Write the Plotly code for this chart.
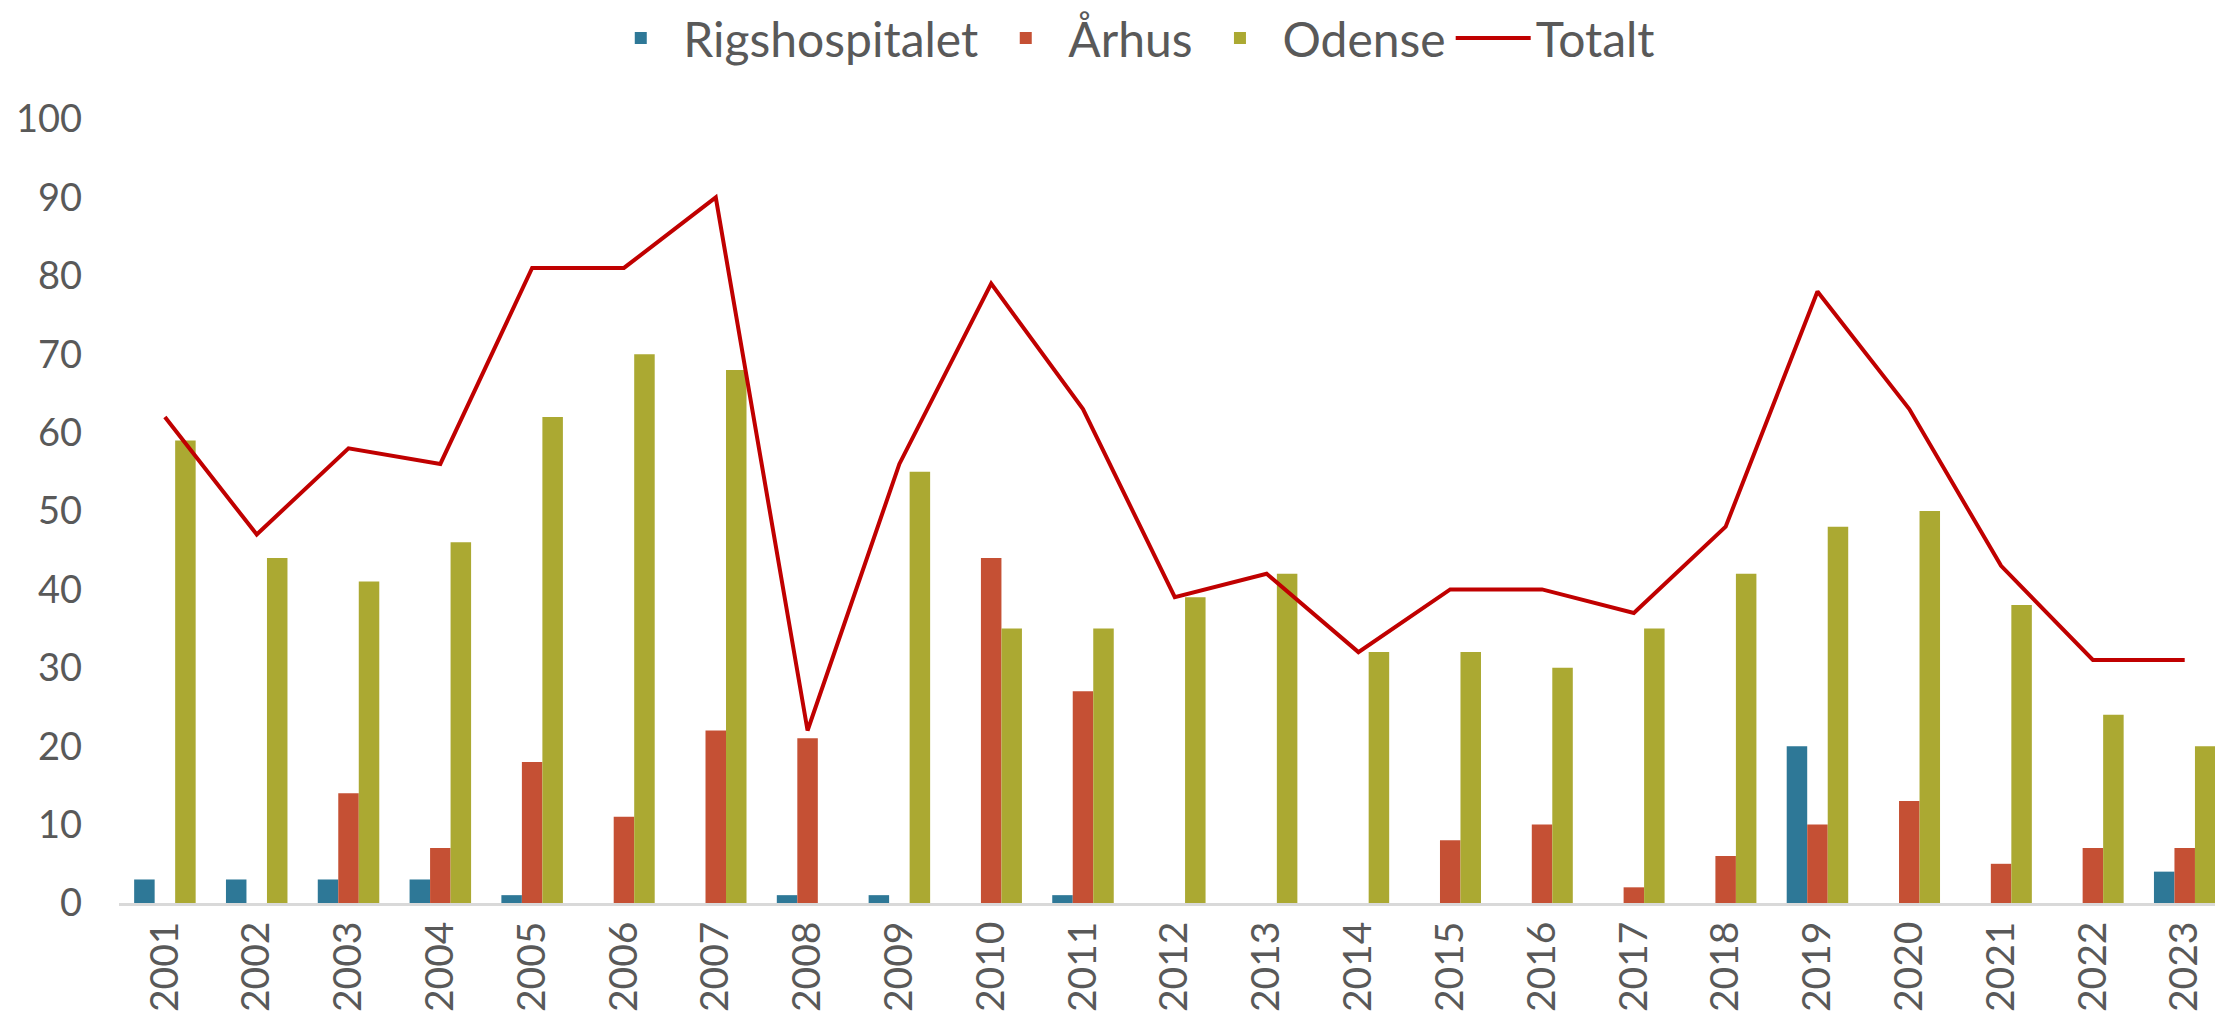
import plotly.graph_objects as go

years = [str(y) for y in range(2001, 2024)]
rigshospitalet = [3, 3, 3, 3, 1, 0, 0, 1, 1, 0, 1, 0, 0, 0, 0, 0, 0, 0, 20, 0, 0, 0, 4]
aarhus = [0, 0, 14, 7, 18, 11, 22, 21, 0, 44, 27, 0, 0, 0, 8, 10, 2, 6, 10, 13, 5, 7, 7]
odense = [59, 44, 41, 46, 62, 70, 68, 0, 55, 35, 35, 39, 42, 32, 32, 30, 35, 42, 48, 50, 38, 24, 20]
totalt = [62, 47, 58, 56, 81, 81, 90, 22, 56, 79, 63, 39, 42, 32, 40, 40, 37, 48, 78, 63, 43, 31, 31]

FONT = "Lato, 'Open Sans', sans-serif"
GREY = "#595959"

fig = go.Figure()
fig.add_trace(go.Bar(x=years, y=rigshospitalet, name="Rigshospitalet",
                     marker=dict(color="#2E7897", line=dict(width=0))))
fig.add_trace(go.Bar(x=years, y=aarhus, name="Århus",
                     marker=dict(color="#C55034", line=dict(width=0))))
fig.add_trace(go.Bar(x=years, y=odense, name="Odense",
                     marker=dict(color="#ABA932", line=dict(width=0))))
fig.add_trace(go.Scatter(x=years, y=totalt, name="Totalt", mode="lines",
                         line=dict(color="#C00000", width=4)))

fig.update_layout(
    width=2215, height=1019,
    margin=dict(l=119, r=0, t=119, b=116),
    paper_bgcolor="white", plot_bgcolor="white",
    barmode="group", bargap=0.33, bargroupgap=0,
    font=dict(family=FONT, color=GREY),
    legend=dict(orientation="h", x=0.482, xanchor="center", y=1.103, yanchor="middle",
                font=dict(size=48, color=GREY, family=FONT), itemwidth=75,
                traceorder="normal"),
    showlegend=True,
)
fig.update_xaxes(type="category", range=[-0.5, 22.33], showgrid=False,
                 showline=True, linecolor="#D9D9D9", linewidth=3,
                 tickangle=-90, tickfont=dict(size=39, color=GREY, family=FONT),
                 ticks="", zeroline=False, automargin=False)
fig.update_yaxes(range=[0, 100], dtick=10, showgrid=False, showline=False,
                 zeroline=False, ticks="", ticklabelstandoff=36, automargin=False,
                 tickfont=dict(size=38, color=GREY, family=FONT))

fig.write_html("out.html", config={"displayModeBar": False},
               post_script="document.body.style.margin='0';document.body.style.overflow='hidden';")
